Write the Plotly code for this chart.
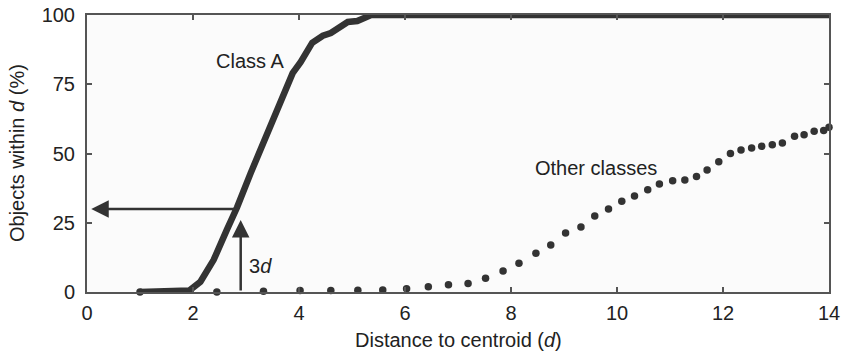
import plotly.graph_objects as go

# Cumulative share of objects within a distance d of the class centroid
class_a_x = [1.0, 1.93, 2.14, 2.39, 2.64, 2.83, 3.09, 3.34, 3.53, 3.72, 3.88,
             4.03, 4.25, 4.45, 4.6, 4.92, 5.1, 5.36, 14.0]
class_a_y = [0, 0.5, 3.7, 11.6, 22.5, 30.5, 43, 54, 62.5, 71, 79,
             83, 90, 92.5, 93.5, 97.5, 97.8, 100, 100]

other_x = [1.0, 2.45, 3.33, 4.02, 4.6, 5.11, 5.58, 6.03, 6.44, 6.82, 7.19,
           7.52, 7.85, 8.15, 8.47, 8.75, 9.03, 9.32, 9.58, 9.84, 10.09,
           10.33, 10.58, 10.8, 11.05, 11.28, 11.5, 11.7, 11.92, 12.14, 12.34,
           12.54, 12.73, 12.93, 13.12, 13.35, 13.53, 13.72, 13.9, 14.0]
other_y = [0, 0, 0.3, 0.5, 0.5, 0.6, 0.7, 1.2, 1.9, 2.6, 3.1,
           5, 7.6, 10.4, 14, 17, 21.3, 23.5, 27.4, 30, 32.8,
           34.7, 36.9, 39, 40.2, 40.4, 41.7, 44, 47, 50, 51.3,
           52, 52.6, 53.2, 53.8, 56.2, 56.8, 58, 58.3, 59.5]

x_ticks = [0, 2, 4, 6, 8, 10, 12, 14]
y_ticks = [0, 25, 50, 75, 100]

threshold_d = 2.9      # position of the "3d" marker on the distance axis
threshold_pct = 30     # share of Class A objects inside that distance

FONT = "Liberation Sans, Arial, sans-serif"
INK = "#333333"
FRAME = "#555555"
TEXT = "#222222"

fig = go.Figure()

fig.add_trace(go.Scatter(
    x=other_x, y=other_y, mode="markers", name="Other classes",
    marker=dict(color=INK, size=7.5), cliponaxis=False, showlegend=False,
))
fig.add_trace(go.Scatter(
    x=class_a_x, y=class_a_y, mode="lines", name="Class A",
    line=dict(color=INK, width=6.5), cliponaxis=False, showlegend=False,
))

annotations = [
    dict(x=3.07, y=83.5, text="Class A", showarrow=False,
         font=dict(size=20, color=TEXT, family=FONT)),
    dict(x=9.6, y=44.8, text="Other classes", showarrow=False,
         font=dict(size=20, color=TEXT, family=FONT)),
    dict(x=threshold_d + 0.12, y=9.5, text="3<i>d</i>", showarrow=False,
         xanchor="left", font=dict(size=20, color=TEXT, family=FONT)),
    # horizontal arrow: from the curve back to the percentage axis
    dict(x=0.08, y=threshold_pct, ax=2.84, ay=threshold_pct,
         xref="x", yref="y", axref="x", ayref="y", text="",
         showarrow=True, arrowhead=2, arrowsize=1.4, arrowwidth=2.5,
         arrowcolor=INK),
    # vertical arrow: from the distance axis up to the curve
    dict(x=threshold_d, y=26, ax=threshold_d, ay=0,
         xref="x", yref="y", axref="x", ayref="y", text="",
         showarrow=True, arrowhead=2, arrowsize=1.4, arrowwidth=2.5,
         arrowcolor=INK),
    # axis titles
    dict(x=0.5, y=-0.175, xref="paper", yref="paper", yanchor="middle",
         text="Distance to centroid (<i>d</i>)", showarrow=False,
         font=dict(size=20, color=TEXT, family=FONT)),
    dict(x=-0.095, y=0.5, xref="paper", yref="paper", xanchor="center",
         text="Objects within <i>d</i> (%)", showarrow=False, textangle=-90,
         font=dict(size=20, color=TEXT, family=FONT)),
]

axis_common = dict(
    showline=True, mirror="ticks", linecolor=FRAME, linewidth=2,
    ticks="inside", ticklen=5, tickwidth=1.5, tickcolor=FRAME,
    showgrid=False, zeroline=False, automargin=False,
    tickfont=dict(size=20, color=TEXT, family=FONT),
)

fig.update_layout(
    width=842, height=354,
    margin=dict(l=87, r=13, t=15, b=62),
    paper_bgcolor="white", plot_bgcolor="#fbfbfb",
    font=dict(family=FONT, color=TEXT),
    annotations=annotations,
    xaxis=dict(range=[0, 14], tickvals=x_ticks, ticklabelstandoff=2,
               **axis_common),
    yaxis=dict(range=[0, 100], tickvals=y_ticks, ticklabelstandoff=6,
               **axis_common),
)

fig.write_html("out.html")
